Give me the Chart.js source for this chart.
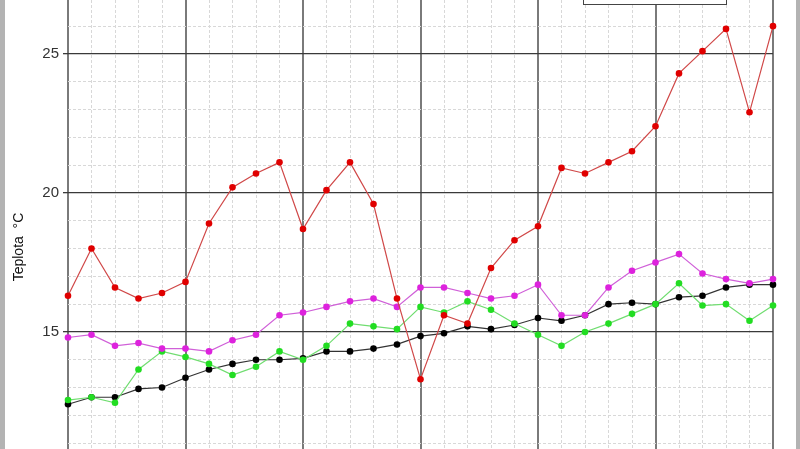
<!DOCTYPE html>
<html lang="cs">
<head>
<meta charset="UTF-8">
<title>Teplota</title>
<script src="https://cdn.jsdelivr.net/npm/chart.js"></script>
<style>
  html, body { margin: 0; padding: 0; width: 800px; height: 449px; overflow: hidden; background: #b3b3b3; }
  #wrap { position: absolute; left: 5px; top: 0; width: 791px; height: 494px; background: #fff; }
</style>
</head>
<body>
<div id="wrap"><canvas id="teplotaChart"></canvas></div>
<script>
  // x categories (hidden below the visible part)
  const days = ['1','2','3','4','5','6','7','8','9','10','11','12','13','14','15','16',
                '17','18','19','20','21','22','23','24','25','26','27','28','29','30','31'];

  const redSeries = [16.3, 18.0, 16.6, 16.2, 16.4, 16.8, 18.9, 20.2, 20.7, 21.1, 18.7, 20.1, 21.1, 19.6, 16.2, 13.3,
                     15.6, 15.3, 17.3, 18.3, 18.8, 20.9, 20.7, 21.1, 21.5, 22.4, 24.3, 25.1, 25.9, 22.9, 26.0];
  const magentaSeries = [14.8, 14.9, 14.5, 14.6, 14.4, 14.4, 14.3, 14.7, 14.9, 15.6, 15.7, 15.9, 16.1, 16.2, 15.9, 16.6,
                         16.6, 16.4, 16.2, 16.3, 16.7, 15.6, 15.6, 16.6, 17.2, 17.5, 17.8, 17.1, 16.9, 16.75, 16.9];
  const greenSeries = [12.55, 12.65, 12.45, 13.65, 14.3, 14.1, 13.85, 13.45, 13.75, 14.3, 14.0, 14.5, 15.3, 15.2, 15.1, 15.9,
                       15.7, 16.1, 15.8, 15.3, 14.9, 14.5, 15.0, 15.3, 15.65, 16.0, 16.75, 15.95, 16.0, 15.4, 15.95];
  const blackSeries = [12.4, 12.65, 12.65, 12.95, 13.0, 13.35, 13.65, 13.85, 14.0, 14.0, 14.05, 14.3, 14.3, 14.4, 14.55, 14.85,
                       14.95, 15.2, 15.1, 15.25, 15.5, 15.4, 15.6, 16.0, 16.05, 16.0, 16.25, 16.3, 16.6, 16.7, 16.7];

  const yMin = 9.17;
  const yMax = 26.94;
  const yTickValues = [10, 11, 12, 13, 14, 15, 16, 17, 18, 19, 20, 21, 22, 23, 24, 25, 26];

  // top of the legend frame, cut off by the picture edge
  const legendBox = {
    id: 'legendBox',
    afterDraw(chart) {
      const c = chart.ctx;
      c.save();
      c.fillStyle = '#fff';
      c.strokeStyle = '#444';
      c.lineWidth = 1;
      c.fillRect(578, -10, 143, 14);
      c.strokeRect(578.5, -10, 143, 14.5);
      c.restore();
    }
  };

  function series(label, data, lineColor, pointColor, order) {
    return {
      label: label,
      data: data,
      borderColor: lineColor,
      backgroundColor: pointColor,
      pointBackgroundColor: pointColor,
      pointBorderColor: pointColor,
      borderWidth: 1.2,
      pointRadius: 3.3,
      pointBorderWidth: 0,
      tension: 0,
      order: order
    };
  }

  const ctx = document.getElementById('teplotaChart').getContext('2d');
  new Chart(ctx, {
    type: 'line',
    data: {
      labels: days,
      datasets: [
        series('max', redSeries, '#d04848', '#e00000', 1),
        series('magenta', magentaSeries, '#d060d8', '#dd22dd', 2),
        series('green', greenSeries, '#70dd70', '#22dd22', 3),
        series('black', blackSeries, '#333333', '#000000', 4)
      ]
    },
    options: {
      responsive: true,
      maintainAspectRatio: false,
      animation: false,
      layout: { autoPadding: false, padding: { left: 0, right: 23, top: 0, bottom: 0 } },
      plugins: { legend: { display: false }, tooltip: { enabled: false } },
      scales: {
        x: {
          ticks: { display: false },
          grid: {
            drawTicks: false,
            color: (c) => c.index % 5 === 0 ? '#7a7a7a' : '#d8d8d8',
            lineWidth: (c) => c.index % 5 === 0 ? 2 : 1
          },
          border: {
            display: false,
            dash: (c) => c.index % 5 === 0 ? [] : [3, 2]
          }
        },
        y: {
          min: yMin,
          max: yMax,
          afterBuildTicks: (scale) => {
            scale.ticks = yTickValues.map(v => ({ value: v }));
          },
          afterFit: (scale) => {
            scale.width = 63;
            scale.paddingTop = 0;
            scale.paddingBottom = 0;
          },
          ticks: {
            padding: 4,
            color: '#333',
            font: { family: 'Liberation Sans', size: 15 },
            callback: (v) => v % 5 === 0 ? String(v) : ''
          },
          grid: {
            tickLength: 5,
            color: (c) => c.tick.value % 5 === 0 ? '#3a3a3a' : '#d8d8d8',
            lineWidth: (c) => c.tick.value % 5 === 0 ? 1.3 : 1,
            tickColor: (c) => c.tick.value % 5 === 0 ? '#3a3a3a' : 'rgba(0,0,0,0)'
          },
          border: {
            display: false,
            dash: (c) => c.tick.value % 5 === 0 ? [] : [3, 2]
          },
          title: {
            display: true,
            text: 'Teplota  °C',
            color: '#111',
            padding: { top: 6, bottom: 0 },
            font: { family: 'Liberation Sans', size: 14 }
          }
        }
      }
    },
    plugins: [legendBox]
  });
</script>
</body>
</html>
